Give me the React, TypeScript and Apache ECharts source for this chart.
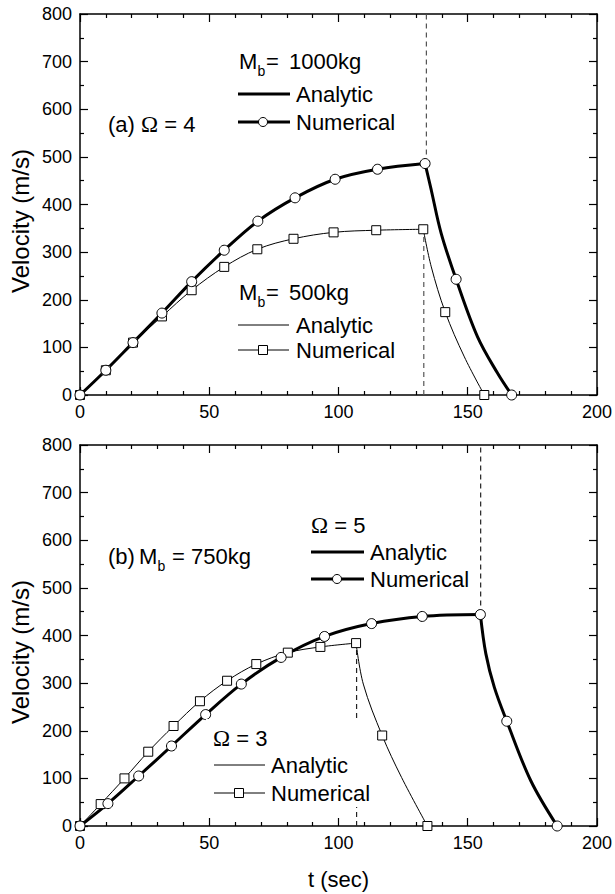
import React, { useEffect, useRef } from "react";
import * as echarts from "echarts";

// ---------- data ----------
// Panel (a): Omega = 4
const T_MB1000 = [0, 10, 20.5, 31.7, 43.2, 55.8, 68.8, 83.2, 98.7, 115.1, 133.5, 145.5, 167];
const V_MB1000 = [0, 52, 110, 172, 238, 304, 365, 414, 453, 474, 486, 243, 0];
const T_MB1000_FALL = [133.5, 135.9, 139.7, 145.5, 153.8, 161.5, 167];
const V_MB1000_FALL = [486, 430, 340, 243, 122, 46, 0];

const T_MB500 = [0, 10, 20.5, 31.7, 43.2, 55.8, 68.6, 82.6, 98.1, 114.6, 132.8, 141.3, 156.4];
const V_MB500 = [0, 52, 110, 165, 220, 269, 306, 328, 341.5, 346, 348, 174, 0];
const T_MB500_FALL = [132.8, 135.9, 141.3, 148.7, 156.4];
const V_MB500_FALL = [348, 269, 174, 80, 0];

// Panel (b): Mb = 750 kg
const T_W5 = [0, 10.8, 22.7, 35.4, 48.6, 62.4, 77.8, 94.6, 112.8, 132.4, 154.9, 165.1, 184.6];
const V_W5 = [0, 47, 105, 168, 234, 298, 354, 398, 425, 440, 444, 220, 0];
const T_W5_FALL = [154.9, 157, 160.3, 165.1, 174.4, 184.6];
const V_W5_FALL = [444, 362, 291, 220, 95, 0];

const T_W3 = [0, 8.0, 17.2, 26.4, 36.2, 46.4, 56.9, 68.2, 80.4, 93.0, 106.8, 116.9, 134.4];
const V_W3 = [0, 46, 100, 156, 210, 262, 305, 340, 364, 376, 384, 190, 0];
const T_W3_FALL = [106.8, 109.6, 116.9, 124.4, 134.4];
const V_W3_FALL = [384, 298, 190, 102, 0];

const PEAK_INDEX = 10;

// burn-out markers (dashed verticals): [t, vFrom, vTo]
const CUTOFF_A_1000 = [134, 486, 800];
const CUTOFF_A_500 = [133, 0, 348];
const CUTOFF_B_5 = [155, 444, 800];
const CUTOFF_B_3 = [107, 0, 384];

const X_MIN = 0, X_MAX = 200, X_STEP = 50;
const Y_MIN = 0, Y_MAX = 800, Y_STEP = 100;

const SANS = "Liberation Sans, Arial, Helvetica, sans-serif";
const SERIF = "Liberation Serif, Times New Roman, serif";

const zip = (t: number[], v: number[]) => t.map((x, i) => [x, v[i]]);

function xAxis(grid: number, pos: "bottom" | "top", withName: boolean) {
  return {
    type: "value",
    gridIndex: grid,
    position: pos,
    min: X_MIN,
    max: X_MAX,
    interval: X_STEP,
    name: withName ? "t (sec)" : "",
    nameLocation: "middle",
    nameGap: 42,
    nameTextStyle: { fontFamily: SANS, fontSize: 22, color: "#000" },
    axisLine: { show: true, onZero: false, lineStyle: { color: "#000", width: 1.5 } },
    axisTick: { show: true, inside: true, length: 8, lineStyle: { color: "#000", width: 1.2 } },
    minorTick: { show: true, splitNumber: 5, length: 4, lineStyle: { color: "#000", width: 1.2 } },
    axisLabel: {
      show: pos === "bottom",
      fontFamily: SANS,
      fontSize: 18,
      color: "#000",
      margin: 8,
    },
    splitLine: { show: false },
  };
}

function yAxis(grid: number, pos: "left" | "right") {
  return {
    type: "value",
    gridIndex: grid,
    position: pos,
    min: Y_MIN,
    max: Y_MAX,
    interval: Y_STEP,
    axisLine: { show: true, onZero: false, lineStyle: { color: "#000", width: 1.5 } },
    axisTick: { show: true, inside: true, length: 8, lineStyle: { color: "#000", width: 1.2 } },
    minorTick: { show: true, splitNumber: 2, length: 4, lineStyle: { color: "#000", width: 1.2 } },
    axisLabel: {
      show: pos === "left",
      fontFamily: SANS,
      fontSize: 18,
      color: "#000",
      margin: 8,
    },
    splitLine: { show: false },
  };
}

function lineSeries(ax: number, data: number[][], width: number) {
  return {
    type: "line",
    xAxisIndex: ax,
    yAxisIndex: ax,
    data,
    smooth: 0.35,
    symbol: "none",
    lineStyle: { color: "#000", width },
    z: 3,
    silent: true,
  };
}

function markerSeries(ax: number, data: number[][], symbol: string, size: number) {
  return {
    type: "scatter",
    xAxisIndex: ax,
    yAxisIndex: ax,
    data,
    symbol,
    symbolSize: size,
    clip: false,
    itemStyle: { color: "#fff", borderColor: "#000", borderWidth: 1, opacity: 1 },
    z: 5,
    silent: true,
  };
}

function dashSeries(ax: number, c: number[], color: string) {
  return {
    type: "line",
    xAxisIndex: ax,
    yAxisIndex: ax,
    data: [
      [c[0], c[1]],
      [c[0], c[2]],
    ],
    symbol: "none",
    lineStyle: { color, width: 1.2, type: [5, 4] },
    z: 2,
    silent: true,
  };
}

// ---------- legend drawing helpers (graphic decorations) ----------
function txt(x: number, y: number, text: string, size = 22, family = SANS) {
  return {
    type: "text",
    x,
    y,
    z: 20,
    style: {
      text,
      fontFamily: family,
      fontSize: size,
      fill: "#000",
      textAlign: "left",
      textVerticalAlign: "middle",
    },
  };
}

function omegaText(x: number, y: number, before: string, after: string) {
  return {
    type: "text",
    x,
    y,
    z: 20,
    style: {
      text: `{s|${before}}{o|Ω}{s|${after}}`,
      textAlign: "left",
      textVerticalAlign: "middle",
      rich: {
        s: { fontFamily: SANS, fontSize: 22, fill: "#000", color: "#000" },
        o: { fontFamily: SERIF, fontSize: 23, fill: "#000", color: "#000" },
      },
    },
  };
}

// "M_b = <value>" : M, subscript b, "=", value
function massText(xM: number, y: number, value: string, xEq: number, xVal: number) {
  return [
    txt(xM, y, "M"),
    txt(xM + 18.5, y + 10, "b", 14),
    txt(xEq, y, "="),
    txt(xVal, y, value),
  ];
}

function legendLine(x1: number, x2: number, y: number, width: number) {
  return {
    type: "line",
    z: 20,
    shape: { x1, y1: y, x2, y2: y },
    style: { stroke: "#000", lineWidth: width },
  };
}

function legendCircle(cx: number, cy: number) {
  return {
    type: "circle",
    z: 21,
    shape: { cx, cy, r: 4.5 },
    style: { fill: "#fff", stroke: "#000", lineWidth: 1 },
  };
}

function legendSquare(cx: number, cy: number) {
  return {
    type: "rect",
    z: 21,
    shape: { x: cx - 4.5, y: cy - 4.5, width: 9, height: 9 },
    style: { fill: "#fff", stroke: "#000", lineWidth: 1 },
  };
}

function yName(y: number) {
  return {
    type: "text",
    x: 20,
    y,
    rotation: Math.PI / 2,
    z: 20,
    style: {
      text: "Velocity (m/s)",
      fontFamily: SANS,
      fontSize: 24,
      fill: "#000",
      textAlign: "center",
      textVerticalAlign: "middle",
    },
  };
}

export default function App() {
  const ref = useRef<HTMLDivElement>(null);

  useEffect(() => {
    document.body.style.margin = "0";
    if (!ref.current) return;
    const chart = echarts.init(ref.current, undefined, { renderer: "svg" });

    const graphic: any[] = [
      yName(221),
      yName(652),
      // panel (a)
      omegaText(108, 124, "(a) ", " = 4"),
      ...massText(239, 61, "1000kg", 266, 289),
      legendLine(238, 290, 94, 3),
      txt(296, 94, "Analytic"),
      legendLine(238, 290, 122, 3),
      legendCircle(263, 122),
      txt(296, 122, "Numerical"),
      ...massText(239, 292, "500kg", 266, 289),
      legendLine(238, 289, 325, 1),
      txt(296, 325, "Analytic"),
      legendLine(238, 289, 350, 1),
      legendSquare(263, 350),
      txt(296, 350, "Numerical"),
      // panel (b)
      txt(108, 556, "(b)"),
      ...massText(139, 556, "750kg", 172, 191),
      omegaText(311, 525, "", " = 5"),
      legendLine(311, 364, 552, 3),
      txt(370, 552, "Analytic"),
      legendLine(311, 364, 579, 3),
      legendCircle(337, 579),
      txt(370, 579, "Numerical"),
      {
        type: "rect",
        z: 15,
        shape: { x: 206, y: 719, width: 168, height: 88 },
        style: { fill: "#fff", stroke: null },
      },
      omegaText(213, 738, "", " = 3"),
      legendLine(214, 265, 765, 1),
      txt(271, 765, "Analytic"),
      legendLine(214, 265, 793, 1),
      legendSquare(239, 793),
      txt(271, 793, "Numerical"),
    ];

    const option: any = {
      animation: false,
      backgroundColor: "#fff",
      grid: [
        { left: 80, top: 14, width: 520, height: 381, containLabel: false },
        { left: 80, top: 445, width: 520, height: 381, containLabel: false },
      ],
      xAxis: [xAxis(0, "bottom", false), xAxis(1, "bottom", true), xAxis(0, "top", false), xAxis(1, "top", false)],
      yAxis: [yAxis(0, "left"), yAxis(1, "left"), yAxis(0, "right"), yAxis(1, "right")],
      series: [
        // panel (a)
        dashSeries(0, CUTOFF_A_1000, "#555"),
        dashSeries(0, CUTOFF_A_500, "#555"),
        lineSeries(0, zip(T_MB1000, V_MB1000).slice(0, PEAK_INDEX + 1), 3),
        lineSeries(0, zip(T_MB1000_FALL, V_MB1000_FALL), 3),
        lineSeries(0, zip(T_MB500, V_MB500).slice(0, PEAK_INDEX + 1), 1),
        lineSeries(0, zip(T_MB500_FALL, V_MB500_FALL), 1),
        markerSeries(0, zip(T_MB500, V_MB500), "rect", 9),
        markerSeries(0, zip(T_MB1000, V_MB1000), "circle", 10),
        // panel (b)
        dashSeries(1, CUTOFF_B_5, "#222"),
        dashSeries(1, CUTOFF_B_3, "#222"),
        lineSeries(1, zip(T_W5, V_W5).slice(0, PEAK_INDEX + 1), 3),
        lineSeries(1, zip(T_W5_FALL, V_W5_FALL), 3),
        lineSeries(1, zip(T_W3, V_W3).slice(0, PEAK_INDEX + 1), 1),
        lineSeries(1, zip(T_W3_FALL, V_W3_FALL), 1),
        markerSeries(1, zip(T_W3, V_W3), "rect", 9),
        markerSeries(1, zip(T_W5, V_W5), "circle", 10),
      ],
      graphic,
    };

    chart.setOption(option);
    return () => chart.dispose();
  }, []);

  return <div ref={ref} style={{ width: 615, height: 894 }} />;
}
